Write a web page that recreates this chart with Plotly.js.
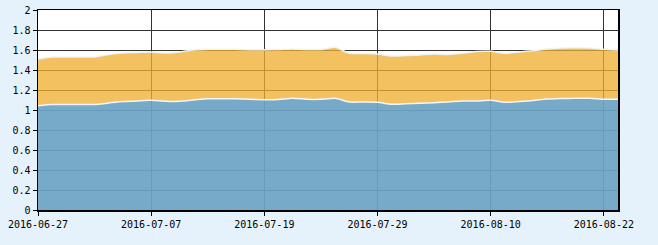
<!DOCTYPE html>
<html>
<head>
<meta charset="utf-8">
<script src="https://cdn.plot.ly/plotly-3.0.1.min.js"></script>
<style>
html,body{margin:0;padding:0;background:#e6f2fb;}
#chart{width:658px;height:245px;}
</style>
</head>
<body>
<div id="chart"></div>
<script>
var dates = [
  "2016-06-27","2016-06-28","2016-06-29","2016-06-30","2016-07-01",
  "2016-07-04","2016-07-05","2016-07-06","2016-07-07","2016-07-08",
  "2016-07-11","2016-07-12","2016-07-13","2016-07-14","2016-07-15",
  "2016-07-18","2016-07-19","2016-07-20","2016-07-21","2016-07-22",
  "2016-07-25","2016-07-26","2016-07-27","2016-07-28","2016-07-29",
  "2016-08-01","2016-08-02","2016-08-03","2016-08-04","2016-08-05",
  "2016-08-08","2016-08-09","2016-08-10","2016-08-11","2016-08-12",
  "2016-08-15","2016-08-16","2016-08-17","2016-08-18","2016-08-19",
  "2016-08-22","2016-08-23"
];
var lowerSeries = [
  1.043,1.055,1.055,1.055,1.055,
  1.070,1.085,1.090,1.097,1.087,
  1.088,1.100,1.113,1.113,1.113,
  1.107,1.103,1.105,1.117,1.107,
  1.107,1.117,1.080,1.080,1.077,
  1.057,1.063,1.067,1.073,1.080,
  1.090,1.090,1.097,1.077,1.085,
  1.095,1.110,1.115,1.117,1.117,
  1.107,1.107
];
var upperTotal = [
  1.510,1.530,1.530,1.530,1.530,
  1.555,1.570,1.575,1.580,1.570,
  1.580,1.600,1.607,1.607,1.607,
  1.603,1.603,1.605,1.610,1.605,
  1.605,1.627,1.567,1.565,1.560,
  1.540,1.545,1.550,1.560,1.555,
  1.567,1.585,1.587,1.567,1.580,
  1.593,1.610,1.620,1.623,1.620,
  1.607,1.600
];
var upperSeries = upperTotal.map(function(v,i){ return +(v - lowerSeries[i]).toFixed(3); });
var tickDates = ["2016-06-27","2016-07-07","2016-07-19","2016-07-29","2016-08-10","2016-08-22"];

var traces = [
  {x: dates, y: lowerSeries, type: 'scatter', mode: 'lines', stackgroup: 'one',
   line: {color: 'rgba(245,250,255,0.95)', width: 1.5, shape: 'spline', smoothing: 0.6},
   fillcolor: 'rgba(108,164,196,0.93)', hoverinfo: 'x+y'},
  {x: dates, y: upperSeries, type: 'scatter', mode: 'lines', stackgroup: 'one',
   line: {color: 'rgba(235,245,252,0.95)', width: 1.5, shape: 'spline', smoothing: 0.6},
   fillcolor: 'rgba(241,174,48,0.77)', hoverinfo: 'x+y'}
];

var font = {family: '"DejaVu Sans Mono", "Liberation Mono", monospace', size: 10, color: '#000'};

var layout = {
  width: 658, height: 245,
  margin: {l: 38, r: 40, t: 10, b: 35, pad: 0},
  paper_bgcolor: '#e6f2fb',
  plot_bgcolor: '#ffffff',
  showlegend: false,
  font: font,
  xaxis: {
    type: 'category',
    range: [0, dates.length - 1],
    tickmode: 'array', tickvals: tickDates, ticktext: tickDates,
    showgrid: true, gridcolor: '#333333', gridwidth: 1,
    showline: true, linecolor: '#000', linewidth: 1.5, mirror: true,
    ticks: 'outside', ticklen: 4, tickcolor: '#000', tickwidth: 1,
    tickfont: font, zeroline: false, fixedrange: true
  },
  yaxis: {
    range: [0, 2], dtick: 0.2, tick0: 0,
    showgrid: true, gridcolor: '#333333', gridwidth: 1,
    showline: true, linecolor: '#000', linewidth: 1.5, mirror: true,
    ticks: 'outside', ticklen: 4, tickcolor: '#000', tickwidth: 1,
    tickfont: font, zeroline: false, fixedrange: true
  }
};

Plotly.newPlot('chart', traces, layout, {displayModeBar: false, staticPlot: true});
</script>
</body>
</html>
